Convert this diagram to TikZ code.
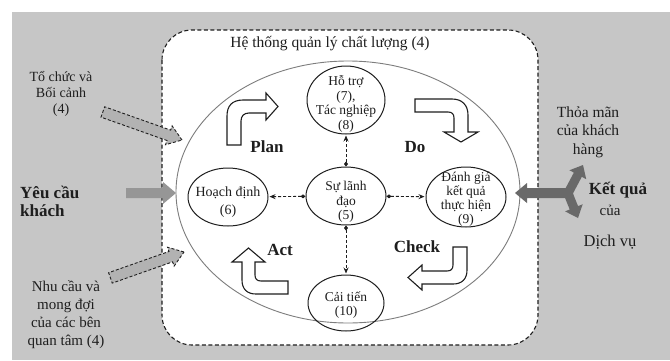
\documentclass[tikz,border=0pt]{standalone}
\usepackage{fontspec}
\setmainfont{Liberation Serif}
\usetikzlibrary{arrows.meta,shapes.geometric}

\definecolor{bggray}{RGB}{198,198,198}
\definecolor{ink}{RGB}{30,30,30}
\definecolor{ringgray}{RGB}{125,125,125}
\definecolor{arrowgray}{RGB}{150,150,150}
\definecolor{darkarrow}{RGB}{105,105,105}
\definecolor{inflowgray}{RGB}{178,178,178}

% block arrow along +x with its tip at the origin:
% #1 total length, #2 head length, #3 head width, #4 shaft width
\newcommand{\blockarrowpath}[4]{(0,0) -- (-#2,-#3/2) -- (-#2,-#4/2) -- (-#1,-#4/2)
  -- (-#1,#4/2) -- (-#2,#4/2) -- (-#2,#3/2) -- cycle}

\begin{document}
\begin{tikzpicture}[x=1pt,y=-1pt,
  stage/.style={ellipse, draw=ink, line width=1pt, inner sep=0pt,
                minimum width=80pt, minimum height=58pt},
  stagetext/.style={align=center, inner sep=0pt, text=ink,
                    font=\fontsize{13.5}{14.5}\selectfont},
  link/.style={densely dashed, line width=0.9pt, draw=ink,
               {Diamond[length=5pt,width=4pt]}-{Stealth[length=6pt,width=5pt]}},
  cyclearrow/.style={draw=ink, line width=1.1pt, fill=white, line join=miter},
  phase/.style={inner sep=0pt, text=ink, font=\fontsize{17}{17}\selectfont\bfseries},
  side/.style={align=center, inner sep=0pt, text=ink,
               font=\fontsize{15}{18}\selectfont},
  sidebold/.style={side, font=\fontsize{17}{18}\selectfont\bfseries},
  inflow/.style={draw=ink, densely dashed, line width=0.9pt, fill=inflowgray},
  outflow/.style={fill=darkarrow},
]
% page and grey backdrop
\useasboundingbox (0,0) rectangle (670,360);
\fill[white] (0,0) rectangle (670,360);
\fill[bggray] (12,12) rectangle (670,360);

% quality management system frame
\draw[ink, line width=1.1pt, dash pattern=on 4pt off 2.5pt, fill=white,
      rounded corners=30pt] (162,30) rectangle (538,345);
\node[inner sep=0pt, text=ink, font=\fontsize{15.5}{17}\selectfont] (title)
  at (330,44) {Hệ thống quản lý chất lượng (4)};

% PDCA ring
\node[ellipse, draw=ringgray, line width=0.9pt, inner sep=0pt,
      minimum width=344pt, minimum height=262pt] (ring) at (348,192) {};

% clauses
\node[stage, minimum width=78pt, minimum height=68pt] (support) at (346,100) {};
\node[stagetext] (supporttxt) at (346,104) {Hỗ trợ\\(7),\\Tác nghiệp\\(8)};

\node[stage] (plan) at (228,197) {};
\node[stagetext, font=\fontsize{14}{18}\selectfont] (plantxt) at (228,202) {Hoạch định\\(6)};

\node[stage] (lead) at (346,196) {};
\node[stagetext] (leadtxt) at (346,202) {Sự lãnh\\đạo\\(5)};

\node[stage, minimum height=60pt] (check) at (466,197) {};
\node[stagetext, font=\fontsize{13.5}{14}\selectfont] (checktxt) at (466,199) {Đánh giá\\kết quả\\thực hiện\\(9)};

\node[stage, minimum width=76pt, minimum height=56pt] (improve) at (346,303) {};
\node[stagetext] (improvetxt) at (346,305) {Cải tiến\\(10)};

% leadership links
\draw[link, shorten >=1pt] (lead) -- (plan);
\draw[link, shorten >=1pt] (lead) -- (check);
\draw[link, shorten >=1pt] (lead) -- (support);
\draw[link, shorten >=1pt] (lead) -- (improve);

% PDCA turning arrows
\draw[cyclearrow] (227,145) -- (227,116) .. controls (227,106) and (232,100) .. (243,100)
  -- (266,100) -- (266,93) -- (278,106.5) -- (266,120) -- (266,113) -- (249,113)
  .. controls (244,113) and (241,116) .. (241,121) -- (241,145) -- cycle;
\draw[cyclearrow] (415,99) -- (452,99) .. controls (462,99) and (468,105) .. (468,115)
  -- (468,132) -- (478,132) -- (461,142) -- (444,132) -- (454,132) -- (454,118)
  .. controls (454,114) and (452,112) .. (448,112) -- (415,112) -- cycle;
\draw[cyclearrow] (453,247) -- (467,247) -- (467,270) .. controls (467,279) and (462,284) .. (453,284)
  -- (422,284) -- (422,290) -- (408,277.5) -- (422,265) -- (422,271) -- (447,271)
  .. controls (451,271) and (453,269) .. (453,265) -- cycle;
\draw[cyclearrow] (288,281) -- (288,294) -- (256,294) .. controls (247,294) and (242,289) .. (242,280)
  -- (242,262) -- (232,262) -- (248.5,248) -- (265,262) -- (255,262) -- (255,275)
  .. controls (255,279) and (257,281) .. (261,281) -- cycle;

\node[phase] (planlbl) at (267,147) {Plan};
\node[phase] (dolbl) at (415,147) {Do};
\node[phase] (checklbl) at (417,247) {Check};
\node[phase] (actlbl) at (280,250) {Act};

% inputs
\node[side, font=\fontsize{14}{16}\selectfont] (context) at (61,94) {Tổ chức và\\Bối cảnh\\(4)};
\node[sidebold, align=left, anchor=west] (needs) at (20,201) {Yêu cầu\\khách};
\node[side] (parties) at (66,315) {Nhu cầu và\\mong đợi\\của các bên\\quan tâm (4)};

\coordinate (contextin) at (182,140);
\coordinate (needsin) at (176,193);
\coordinate (partiesin) at (184,252);
\begin{scope}[shift={(contextin)}, rotate=-19.5]
  \draw[inflow] \blockarrowpath{84}{14}{20}{11};
\end{scope}
\begin{scope}[shift={(needsin)}]
  \fill[arrowgray] \blockarrowpath{50}{13}{22}{10};
\end{scope}
\begin{scope}[shift={(partiesin)}, rotate=19.4]
  \draw[inflow] \blockarrowpath{78}{14}{20}{11};
\end{scope}

% outputs
\node[side, font=\fontsize{15.5}{18.5}\selectfont] (satisfy) at (588,132) {Thỏa mãn\\của khách\\hàng};
\node[sidebold] (result) at (618,190) {Kết quả};
\node[side] (resultof) at (610,210) {của};
\node[side, font=\fontsize{16.5}{18}\selectfont] (service) at (610,242) {Dịch vụ};

\coordinate (hub) at (570,193);
\coordinate (outleft) at (515,193);
\coordinate (outup) at (583,165);
\coordinate (outdown) at (578,218);
\begin{scope}[shift={(outleft)}, rotate=180]
  \fill[outflow] \blockarrowpath{58}{12}{20}{10};
\end{scope}
\begin{scope}[shift={(outup)}, rotate=62]
  \fill[outflow] \blockarrowpath{32}{11}{19}{9};
\end{scope}
\begin{scope}[shift={(outdown)}, rotate=-68]
  \fill[outflow] \blockarrowpath{28}{11}{19}{9};
\end{scope}
\end{tikzpicture}
\end{document}
